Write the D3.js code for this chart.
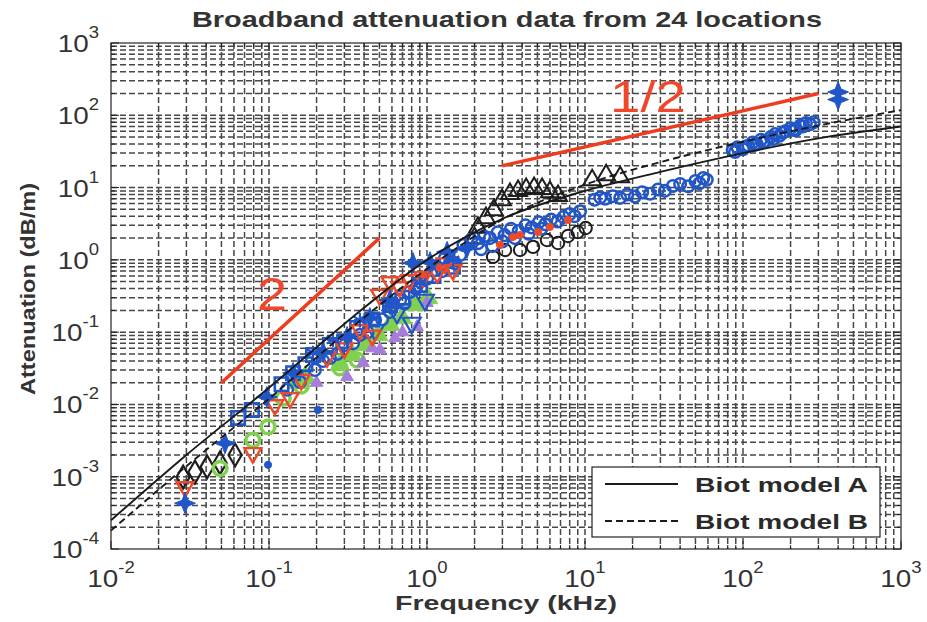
<!DOCTYPE html>
<html><head><meta charset="utf-8">
<script src="https://cdn.jsdelivr.net/npm/d3@7"></script>
<style>
html,body{margin:0;padding:0;background:#fff;}
svg{display:block;font-family:Arial,"Liberation Sans",Helvetica,sans-serif;}
</style></head><body>
<svg id="chart" width="927" height="622"></svg>
<script>
// ---- Biot model curves (frequency kHz, attenuation dB/m) ----
const biotFreq = [0.01, 0.03, 0.1, 0.3, 1, 3, 10, 30, 100, 300, 1000];
const biotA    = [2.5e-4, 2.0e-3, 1.7e-2, 0.13, 1.0, 3.7, 9.0, 16.5, 30, 48, 70];
const biotB    = [1.8e-4, 1.4e-3, 1.2e-2, 0.095, 0.75, 3.6, 11, 22.5, 43, 72, 118];

// ---- Measured attenuation, [frequency kHz, attenuation dB/m] ----
const blueCircleHigh = [[11.5,6.8],[12.5,7.3],[13.4,7.0],[15,7.6],[16.7,7.2],[18.5,8.0],[20.7,7.5],[23,8.6],[25.8,8.2],[29,9.4],[32,9.0],[36,10.5],[40,11.2],[45,10.4],[50,12.3],[53,11.5],[56,13.5],[59,12.8],
  [86,33],[89,31],[92,36],[100,34],[104,37],[108,38],[115,42],[118,39],[122,40],[130,46],[135,43],[140,44],[150,50],[155,47],[160,55],[170,52],[178,57],[185,60],[200,66],[208,63],[215,62],[230,72],[240,70],[250,78],[265,75],[280,80]];
const blueCircleMid = [[1.7,1.6],[1.9,1.9],[2.1,1.7],[2.3,2.1],[2.5,2.0],[2.8,2.4],[3.1,2.2],[3.4,2.7],[3.8,2.5],[4.2,3.0],[4.6,2.8],[5.1,3.3],[5.6,3.1],[6.1,3.6],[6.7,3.4],[7.3,3.9],[8.0,4.3],[8.6,4.0],[9.3,4.7],[2.2,1.4],[2.6,1.55],[3.0,1.8],[3.6,2.0],[4.4,2.3],[5.3,2.7]];
const blueCircleLow = [[0.13,0.016],[0.157,0.0205],[0.195,0.030],[0.22,0.04],[0.243,0.044],[0.27,0.05],[0.303,0.0665],[0.34,0.07],[0.376,0.0914],[0.42,0.1],[0.469,0.147],[0.52,0.15],[0.583,0.19],[0.6,0.22],[0.675,0.279],[0.72,0.25],[0.78,0.36],[0.85,0.4],[0.903,0.50],[1.0,0.55],[1.12,0.725],[1.25,0.7],[1.40,0.93],[1.5,0.9],[1.62,1.17],[1.3,1.05]];
const blackTriangle = [[2.0,2.0],[2.1,2.8],[2.36,3.8],[2.65,4.9],[2.98,6.7],[3.35,8.2],[3.77,9.0],[4.24,9.6],[4.76,9.9],[5.35,9.6],[6.0,8.7],[6.75,7.7],[11.1,12.7],[13.6,14.9],[16.7,14.0]];
const blackCircle = [[2.62,1.10],[3.12,1.37],[3.88,1.37],[4.69,1.51],[5.74,1.88],[6.75,1.71],[7.8,2.14],[9.0,2.43],[10.1,2.76]];
const redDot = [[2.9,1.61],[3.5,2.07],[3.88,2.21],[5.05,2.43],[6.0,2.85],[7.8,3.56],[0.95,0.62],[1.2,0.78]];
const blackDiamond = [[0.0286,9.9e-4],[0.034,1.16e-3],[0.0406,1.37e-3],[0.049,1.55e-3],[0.061,2.0e-3]];
const blueSquare = [[0.0637,6.5e-3],[0.078,8.4e-3],[0.12,0.019],[0.142,0.027],[0.17,0.036],[0.190,0.0484],[0.243,0.0665],[0.3,0.075],[0.361,0.114],[0.45,0.15],[0.583,0.238],[0.7,0.3],[0.903,0.45],[1.1,0.6],[1.46,0.80]];
const greenRing = [[0.049,1.3e-3],[0.079,3.2e-3],[0.0986,4.9e-3],[0.123,0.0122],[0.16,0.018],[0.281,0.032],[0.361,0.0412]];
const greenFilled = [[0.15,0.02],[0.17,0.024],[0.281,0.0352],[0.335,0.0484],[0.406,0.0665],[0.49,0.0914],[0.583,0.126],[0.695,0.157],[0.84,0.238],[1.01,0.297]];
const purpleTriangle = [[0.2,0.02],[0.312,0.024],[0.394,0.0375],[0.45,0.06],[0.504,0.0568],[0.627,0.083],[0.7,0.1],[0.865,0.118],[1.0,0.254]];
const redTriangle = [[0.0294,7.2e-4],[0.079,2.13e-3],[0.109,9.8e-3],[0.136,0.0123],[0.16,0.022],[0.233,0.0454],[0.3,0.06],[0.376,0.107],[0.45,0.09],[0.5,0.33],[0.583,0.494],[0.67,0.42],[0.78,0.527],[0.944,0.58],[1.16,0.66],[1.3,0.9],[1.46,0.725]];
const blueStar = [[0.0294,4.3e-4],[0.0527,2.9e-3],[0.097,0.0127],[0.142,0.0273],[0.22,0.053],[0.312,0.086],[0.435,0.157],[0.583,0.279],[0.815,0.906],[1.045,0.93],[1.34,1.29],[1.79,1.46],[400,210],[400,165]];
const blueAsterisk = [[0.190,0.0515],[0.254,0.078],[0.376,0.147],[0.583,0.254],[0.903,0.48],[1.16,0.80],[1.46,1.0]];
const blueDot = [[0.0986,1.46e-3],[0.204,8.4e-3]];
const blueTriangleDown = [[0.469,0.107],[0.646,0.185],[0.80,0.134],[0.97,0.279]];

// ---- Reference slope lines ----
const slope2Line = [[0.05,0.02],[0.5,2]];
const slopeHalfLine = [[3,20],[300,200]];

// ---- Axis text ----
const xTickExps = [-2,-1,0,1,2,3];
const yTickExps = [-4,-3,-2,-1,0,1,2,3];
const titleText = "Broadband attenuation data from 24 locations";
const xLabelText = "Frequency (kHz)";
const yLabelText = "Attenuation (dB/m)";
const legendLabels = ["Biot model A", "Biot model B"];

const plot = {left:111, top:43, right:901, bottom:549};
const svg = d3.select("#chart");

const x = d3.scaleLog().domain([1e-2, 1e3]).range([plot.left, plot.right]);
const y = d3.scaleLog().domain([1e-4, 1e3]).range([plot.bottom, plot.top]);

// 1..9 x 10^k positions across a range of decades
function logGrid(lo, hi) {
  const out = [];
  for (let k = lo; k < hi; k++) for (let m = 1; m <= 9; m++) out.push({v: m * Math.pow(10, k), major: m === 1});
  out.push({v: Math.pow(10, hi), major: true});
  return out;
}
const xGrid = logGrid(-2, 3);
const yGrid = logGrid(-4, 3);

// background grid (dashed, at major and minor ticks)
const grid = svg.append("g").attr("stroke", "#474747").attr("stroke-width", 1.5).attr("stroke-dasharray", "6,3");
grid.selectAll("line.gx").data(xGrid.filter(d => d.v > 1e-2 * 1.001 && d.v < 1e3 * 0.999)).join("line")
  .attr("x1", d => x(d.v)).attr("x2", d => x(d.v)).attr("y1", plot.top).attr("y2", plot.bottom);
grid.selectAll("line.gy").data(yGrid.filter(d => d.v > 1e-4 * 1.001 && d.v < 1e3 * 0.999)).join("line")
  .attr("y1", d => y(d.v)).attr("y2", d => y(d.v)).attr("x1", plot.left).attr("x2", plot.right);

// ticks on all four sides, pointing inward
const ticks = svg.append("g").attr("stroke", "#222").attr("stroke-width", 1);
xGrid.forEach(d => {
  const len = d.major ? 8 : 4, px = x(d.v);
  ticks.append("line").attr("x1", px).attr("x2", px).attr("y1", plot.bottom).attr("y2", plot.bottom - len);
  ticks.append("line").attr("x1", px).attr("x2", px).attr("y1", plot.top).attr("y2", plot.top + len);
});
yGrid.forEach(d => {
  const len = d.major ? 8 : 4, py = y(d.v);
  ticks.append("line").attr("y1", py).attr("y2", py).attr("x1", plot.left).attr("x2", plot.left + len);
  ticks.append("line").attr("y1", py).attr("y2", py).attr("x1", plot.right).attr("x2", plot.right - len);
});

// custom marker shapes
const star4 = {draw(ctx, size) {
  const r = Math.sqrt(size) * 0.8, i = r * 0.28;
  ctx.moveTo(0, -r); ctx.lineTo(i, -i); ctx.lineTo(r, 0); ctx.lineTo(i, i);
  ctx.lineTo(0, r); ctx.lineTo(-i, i); ctx.lineTo(-r, 0); ctx.lineTo(-i, -i); ctx.closePath();
}};
const asterisk = {draw(ctx, size) {
  const r = Math.sqrt(size) * 0.6;
  for (let a = 0; a < 3; a++) {
    const t = a * Math.PI / 3 + Math.PI / 2;
    ctx.moveTo(r * Math.cos(t), r * Math.sin(t)); ctx.lineTo(-r * Math.cos(t), -r * Math.sin(t));
  }
  ctx.moveTo(-r * 0.8, 0); ctx.lineTo(r * 0.8, 0);
}};

const blue = "#2056c8", red = "#ee4a2a", green = "#80d24e", purple = "#a77ddc", black = "#1e1e1e";
const series = [
  {data: blackDiamond, type: d3.symbolDiamond, size: 150, stroke: black, fill: "none", sw: 2.2},
  {data: greenRing, type: d3.symbolCircle, size: 150, stroke: green, fill: "none", sw: 3.5},
  {data: greenFilled, type: d3.symbolTriangle, size: 170, stroke: green, fill: green, sw: 1},
  {data: purpleTriangle, type: d3.symbolTriangle, size: 70, stroke: purple, fill: purple, sw: 1},
  {data: blueCircleLow, type: d3.symbolCircle, size: 110, stroke: blue, fill: "none", sw: 2.4},
  {data: blueSquare, type: d3.symbolSquare, size: 180, stroke: blue, fill: "none", sw: 2.6},
  {data: blueTriangleDown, type: d3.symbolTriangle, size: 140, stroke: blue, fill: "none", sw: 2.2, rot: 180},
  {data: redTriangle, type: d3.symbolTriangle, size: 120, stroke: red, fill: "none", sw: 2.4, rot: 180},
  {data: blueStar, type: star4, size: 170, stroke: blue, fill: blue, sw: 1},
  {data: blueAsterisk, type: asterisk, size: 150, stroke: blue, fill: "none", sw: 2.2},
  {data: blueDot, type: d3.symbolCircle, size: 40, stroke: blue, fill: blue, sw: 1},
  {data: blackTriangle, type: d3.symbolTriangle, size: 140, stroke: black, fill: "none", sw: 2},
  {data: blackCircle, type: d3.symbolCircle, size: 120, stroke: black, fill: "none", sw: 2},
  {data: blueCircleMid, type: d3.symbolCircle, size: 105, stroke: blue, fill: "none", sw: 2.5},
  {data: blueCircleHigh, type: d3.symbolCircle, size: 105, stroke: blue, fill: "none", sw: 2.5},
  {data: redDot, type: d3.symbolCircle, size: 40, stroke: red, fill: red, sw: 1}
];

const marks = svg.append("g");
series.forEach(s => {
  const sym = d3.symbol().type(s.type).size(s.size);
  marks.append("g").selectAll("path").data(s.data).join("path")
    .attr("d", sym)
    .attr("transform", d => `translate(${x(d[0])},${y(d[1])})` + (s.rot ? ` rotate(${s.rot})` : ""))
    .attr("fill", s.fill).attr("stroke", s.stroke).attr("stroke-width", s.sw);
});

// Biot model curves
const curvePath = vals => d3.line().x((d, i) => x(biotFreq[i])).y(d => y(d)).curve(d3.curveMonotoneX)(vals);
svg.append("path").attr("d", curvePath(biotA)).attr("fill", "none").attr("stroke", "#1a1a1a").attr("stroke-width", 1.9);
svg.append("path").attr("d", curvePath(biotB)).attr("fill", "none").attr("stroke", "#1a1a1a").attr("stroke-width", 1.9).attr("stroke-dasharray", "7,4");

// reference slope lines
const seg = d3.line().x(d => x(d[0])).y(d => y(d[1]));
svg.append("path").attr("d", seg(slope2Line)).attr("stroke", "#f03c1e").attr("stroke-width", 3.5).attr("fill", "none");
svg.append("path").attr("d", seg(slopeHalfLine)).attr("stroke", "#f03c1e").attr("stroke-width", 3.5).attr("fill", "none");
svg.append("text").attr("x", 257).attr("y", 310).attr("font-size", 46).attr("fill", "#f0462a")
  .attr("textLength", 30).attr("lengthAdjust", "spacingAndGlyphs").text("2");
svg.append("text").attr("x", 610).attr("y", 112).attr("font-size", 44).attr("fill", "#f0462a")
  .attr("textLength", 76).attr("lengthAdjust", "spacingAndGlyphs").text("1/2");

// axes box
svg.append("rect").attr("x", plot.left).attr("y", plot.top).attr("width", plot.right - plot.left)
  .attr("height", plot.bottom - plot.top).attr("fill", "none").attr("stroke", "#222").attr("stroke-width", 1.2);

// legend
const lg = svg.append("g");
lg.append("rect").attr("x", 592).attr("y", 467).attr("width", 288).attr("height", 70)
  .attr("fill", "#fff").attr("stroke", "#222").attr("stroke-width", 1.2);
[0, 1].forEach(i => {
  const ly = 484 + i * 37;
  lg.append("line").attr("x1", 605).attr("x2", 678).attr("y1", ly).attr("y2", ly)
    .attr("stroke", "#1a1a1a").attr("stroke-width", 2.2).attr("stroke-dasharray", i ? "7,4" : null);
  lg.append("text").attr("x", 695).attr("y", ly + 8).attr("font-size", 20).attr("font-weight", "bold")
    .attr("fill", "#2a2a2a").attr("textLength", 173).attr("lengthAdjust", "spacingAndGlyphs").text(legendLabels[i]);
});

// tick labels: 10 with superscript exponent
const lbl = svg.append("g").attr("fill", "#333");
xTickExps.forEach(e => {
  const t = lbl.append("text").attr("text-anchor", "middle").attr("font-size", 24)
    .attr("transform", `translate(${x(Math.pow(10, e))},587) scale(1.16,1)`);
  t.append("tspan").text("10");
  t.append("tspan").attr("dy", -14).attr("font-size", 16).text(String(e));
});
yTickExps.forEach(e => {
  const t = lbl.append("text").attr("text-anchor", "end").attr("font-size", 24)
    .attr("transform", `translate(99,${y(Math.pow(10, e)) + 9}) scale(1.16,1)`);
  t.append("tspan").text("10");
  t.append("tspan").attr("dy", -14).attr("font-size", 16).text(String(e));
});

// title and axis labels
svg.append("text").attr("x", 507).attr("y", 27).attr("text-anchor", "middle").attr("font-size", 22)
  .attr("font-weight", "bold").attr("fill", "#333").attr("textLength", 630).attr("lengthAdjust", "spacingAndGlyphs").text(titleText);
svg.append("text").attr("x", 506).attr("y", 610).attr("text-anchor", "middle").attr("font-size", 21)
  .attr("font-weight", "bold").attr("fill", "#333").attr("textLength", 222).attr("lengthAdjust", "spacingAndGlyphs").text(xLabelText);
svg.append("text").attr("transform", "translate(35,289) rotate(-90)").attr("text-anchor", "middle").attr("font-size", 20)
  .attr("font-weight", "bold").attr("fill", "#333").attr("textLength", 212).attr("lengthAdjust", "spacingAndGlyphs").text(yLabelText);
</script></body></html>
